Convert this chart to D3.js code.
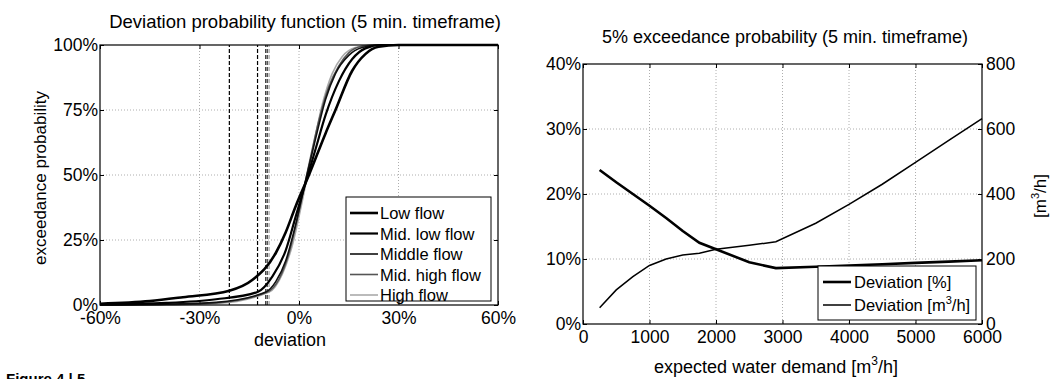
<!DOCTYPE html>
<html>
<head>
<meta charset="utf-8">
<script src="https://cdn.jsdelivr.net/npm/d3@7"></script>
<style>
body { margin: 0; background: #fff; }
svg { font-family: "Liberation Sans", Arial, sans-serif; }
.grid line { stroke: #999; stroke-width: 0.8; stroke-dasharray: 1,2; }
.axis path { display: none; }
.axis line { stroke: #000; }
.axis text { font-size: 17.5px; fill: #000; }
</style>
</head>
<body>
<script>
// left chart: deviation probability function per flow class, [deviation %, exceedance %]
const lowFlow = [[-60,0.5],[-45,1.5],[-35,3],[-21,5.5],[-14,9.7],[-7,20],[-4,28],[-1,38],[3,50],[8,66],[11,75],[16,90],[20,96.5],[24,99.3],[30,100],[60,100]];
const midLowFlow = [[-60,0.2],[-40,0.8],[-25,2.2],[-12.5,5],[-8,11],[-4,21],[-1,34],[2,47],[5,60],[8,73],[12,86],[16,94.5],[20,98.7],[25,100],[60,100]];
const middleFlow = [[-60,0],[-40,0.3],[-25,1],[-10,5],[-7,9],[-4,17],[-1,31],[2,48],[5,64],[8,79],[11,89],[15,96],[19,99],[24,100],[60,100]];
const midHighFlow = [[-60,0],[-40,0.2],[-25,0.8],[-9.5,5],[-6,10],[-3,20],[0,36],[3,54],[6,71],[9,84],[12,92],[15,97],[19,99.5],[24,100],[60,100]];
const highFlow = [[-60,0],[-40,0.1],[-25,0.6],[-9,5],[-5,12],[-2,23],[1,40],[4,59],[7,77],[10,89],[13,95.5],[17,99],[22,100],[60,100]];
const flowNames = ["Low flow", "Mid. low flow", "Middle flow", "Mid. high flow", "High flow"];
const fivePctDeviation = [-21, -12.5, -10, -9.5, -9];
const devTicks = [-60, -30, 0, 30, 60];
const probTicks = [0, 25, 50, 75, 100];

// right chart: 5% exceedance deviation vs expected demand
const demand = [250, 500, 750, 1000, 1250, 1500, 1750, 2000, 2500, 2900, 3500, 4000, 4500, 5000, 5500, 6000];
const deviationPct = [23.7, 21.8, 20.0, 18.2, 16.3, 14.3, 12.5, 11.5, 9.5, 8.6, 8.8, 9.0, 9.2, 9.4, 9.6, 9.8];
const deviationAbs = [50, 105, 146, 180, 200, 212, 218, 230, 242, 253, 310, 368, 430, 497, 565, 632];
const demandTicks = [0, 1000, 2000, 3000, 4000, 5000, 6000];
const pctTicks = [0, 10, 20, 30, 40];
const absTicks = [0, 200, 400, 600, 800];

const flowColor = ["#000", "#000", "#111", "#555", "#aaa"];
const flowWidth = [2.6, 2.2, 1.6, 1.6, 1.6];

const svg = d3.select("body").append("svg")
    .attr("width", 1059)
    .attr("height", 379);

// ---------- left chart ----------
const L = {x0: 100, x1: 498, y0: 45, y1: 305};
const xDev = d3.scaleLinear().domain([-60, 60]).range([L.x0, L.x1]);
const yProb = d3.scaleLinear().domain([0, 100]).range([L.y1, L.y0]);

const gl = svg.append("g");

gl.append("g").attr("class", "grid")
    .selectAll("line").data(devTicks.slice(1, -1)).enter().append("line")
    .attr("x1", d => xDev(d)).attr("x2", d => xDev(d))
    .attr("y1", L.y0).attr("y2", L.y1);
gl.append("g").attr("class", "grid")
    .selectAll("line").data(probTicks.slice(1, -1)).enter().append("line")
    .attr("y1", d => yProb(d)).attr("y2", d => yProb(d))
    .attr("x1", L.x0).attr("x2", L.x1);

gl.append("g").attr("class", "axis")
    .attr("transform", "translate(0," + L.y1 + ")")
    .call(d3.axisBottom(xDev).tickValues(devTicks).tickFormat(d => d + "%").tickSize(-4).tickPadding(7));
gl.append("g").attr("class", "axis")
    .attr("transform", "translate(" + L.x0 + ",0)")
    .call(d3.axisLeft(yProb).tickValues(probTicks).tickFormat(d => d + "%").tickSize(-4).tickPadding(2));
gl.append("g").attr("class", "axis")
    .attr("transform", "translate(0," + L.y0 + ")")
    .call(d3.axisTop(xDev).tickValues(devTicks).tickFormat("").tickSize(-4));
gl.append("g").attr("class", "axis")
    .attr("transform", "translate(" + L.x1 + ",0)")
    .call(d3.axisRight(yProb).tickValues(probTicks).tickFormat("").tickSize(-4));

const flows = [lowFlow, midLowFlow, middleFlow, midHighFlow, highFlow];

// dashed 5% markers
gl.selectAll(".mark").data(fivePctDeviation).enter().append("line")
    .attr("x1", d => xDev(d)).attr("x2", d => xDev(d))
    .attr("y1", yProb(0)).attr("y2", yProb(100))
    .attr("stroke", (d, i) => flowColor[i])
    .attr("stroke-width", 1.2)
    .attr("stroke-dasharray", "4,2");

const flowLine = d3.line()
    .x(d => xDev(d[0])).y(d => yProb(d[1]))
    .curve(d3.curveMonotoneX);

gl.selectAll(".flow").data(flows.slice().reverse()).enter().append("path")
    .attr("fill", "none")
    .attr("stroke", (d, i) => flowColor[4 - i])
    .attr("stroke-width", (d, i) => flowWidth[4 - i])
    .attr("d", flowLine);

gl.append("rect")
    .attr("x", L.x0).attr("y", L.y0)
    .attr("width", L.x1 - L.x0).attr("height", L.y1 - L.y0)
    .attr("fill", "none").attr("stroke", "#000").attr("stroke-width", 1.2);

// legend
const lg = gl.append("g").attr("transform", "translate(346,197)");
lg.append("rect").attr("width", 145).attr("height", 104)
    .attr("fill", "#fff").attr("stroke", "#000").attr("stroke-width", 1);
flowNames.forEach((name, i) => {
    const yy = 16 + i * 20.5;
    lg.append("line").attr("x1", 4).attr("x2", 32).attr("y1", yy).attr("y2", yy)
        .attr("stroke", flowColor[i]).attr("stroke-width", flowWidth[i]);
    lg.append("text").attr("x", 34).attr("y", yy + 6)
        .attr("font-size", 16.5).text(name);
});

gl.append("text").attr("x", 305).attr("y", 28)
    .attr("text-anchor", "middle").attr("font-size", 18.5)
    .text("Deviation probability function (5 min. timeframe)");
gl.append("text").attr("x", 290).attr("y", 346)
    .attr("text-anchor", "middle").attr("font-size", 18)
    .text("deviation");
gl.append("text")
    .attr("transform", "translate(46,178) rotate(-90)")
    .attr("text-anchor", "middle").attr("font-size", 17)
    .text("exceedance probability");

// ---------- right chart ----------
const R = {x0: 583, x1: 982, y0: 64, y1: 324};
const xDem = d3.scaleLinear().domain([0, 6000]).range([R.x0, R.x1]);
const yPct = d3.scaleLinear().domain([0, 40]).range([R.y1, R.y0]);
const yAbs = d3.scaleLinear().domain([0, 800]).range([R.y1, R.y0]);

const gr = svg.append("g");

gr.append("g").attr("class", "grid")
    .selectAll("line").data(demandTicks.slice(1, -1)).enter().append("line")
    .attr("x1", d => xDem(d)).attr("x2", d => xDem(d))
    .attr("y1", R.y0).attr("y2", R.y1);
gr.append("g").attr("class", "grid")
    .selectAll("line").data(pctTicks.slice(1, -1)).enter().append("line")
    .attr("y1", d => yPct(d)).attr("y2", d => yPct(d))
    .attr("x1", R.x0).attr("x2", R.x1);

gr.append("g").attr("class", "axis")
    .attr("transform", "translate(0," + R.y1 + ")")
    .call(d3.axisBottom(xDem).tickValues(demandTicks).tickFormat(d3.format("d")).tickSize(-4).tickPadding(7));
gr.append("g").attr("class", "axis")
    .attr("transform", "translate(0," + R.y0 + ")")
    .call(d3.axisTop(xDem).tickValues(demandTicks).tickFormat("").tickSize(-4));
gr.append("g").attr("class", "axis")
    .attr("transform", "translate(" + R.x0 + ",0)")
    .call(d3.axisLeft(yPct).tickValues(pctTicks).tickFormat(d => d + "%").tickSize(-4).tickPadding(2));
gr.append("g").attr("class", "axis")
    .attr("transform", "translate(" + R.x1 + ",0)")
    .call(d3.axisRight(yAbs).tickValues(absTicks).tickFormat(d3.format("d")).tickSize(-4).tickPadding(4));

gr.append("path").datum(demand.map((d, i) => [d, deviationAbs[i]]))
    .attr("fill", "none").attr("stroke", "#000").attr("stroke-width", 1.5)
    .attr("d", d3.line().x(d => xDem(d[0])).y(d => yAbs(d[1])));
gr.append("path").datum(demand.map((d, i) => [d, deviationPct[i]]))
    .attr("fill", "none").attr("stroke", "#000").attr("stroke-width", 2.6)
    .attr("d", d3.line().x(d => xDem(d[0])).y(d => yPct(d[1])));

gr.append("rect")
    .attr("x", R.x0).attr("y", R.y0)
    .attr("width", R.x1 - R.x0).attr("height", R.y1 - R.y0)
    .attr("fill", "none").attr("stroke", "#000").attr("stroke-width", 1.2);

const rg = gr.append("g").attr("transform", "translate(818,266)");
rg.append("rect").attr("width", 158).attr("height", 54)
    .attr("fill", "#fff").attr("stroke", "#000").attr("stroke-width", 1);
[["Deviation [%]", 2.6], ["Deviation [m", 1.5]].forEach((row, i) => {
    const yy = 16 + i * 23;
    rg.append("line").attr("x1", 5).attr("x2", 33).attr("y1", yy).attr("y2", yy)
        .attr("stroke", "#000").attr("stroke-width", row[1]);
    const t = rg.append("text").attr("x", 36).attr("y", yy + 6).attr("font-size", 16.5).text(row[0]);
    if (i === 1) {
        t.append("tspan").attr("font-size", 11).attr("dy", -7).text("3");
        t.append("tspan").attr("dy", 7).text("/h]");
    }
});

gr.append("text").attr("x", 785).attr("y", 43)
    .attr("text-anchor", "middle").attr("font-size", 18)
    .text("5% exceedance probability (5 min. timeframe)");

const xl = gr.append("text").attr("x", 776).attr("y", 373)
    .attr("text-anchor", "middle").attr("font-size", 18)
    .text("expected water demand [m");
xl.append("tspan").attr("font-size", 12).attr("dy", -8).text("3");
xl.append("tspan").attr("dy", 8).text("/h]");

const yl = gr.append("text")
    .attr("transform", "translate(1046,196) rotate(-90)")
    .attr("text-anchor", "middle").attr("font-size", 17)
    .text("[m");
yl.append("tspan").attr("font-size", 11).attr("dy", -7).text("3");
yl.append("tspan").attr("dy", 7).text("/h]");

svg.append("text").attr("x", 6).attr("y", 384)
    .attr("font-size", 15).attr("font-weight", "bold")
    .text("Figure 4 | 5");
</script>
</body>
</html>
